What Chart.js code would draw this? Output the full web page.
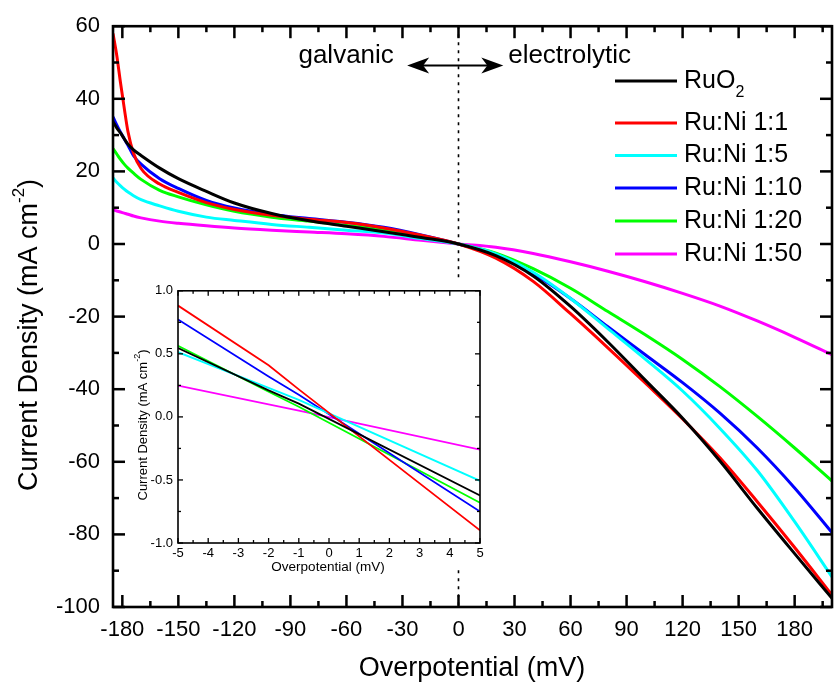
<!DOCTYPE html>
<html>
<head>
<meta charset="utf-8">
<script src="https://cdn.jsdelivr.net/npm/chart.js@4.4.1/dist/chart.umd.min.js"></script>
<style>
  body { margin: 0; background: #fff; }
  #wrap { position: relative; width: 835px; height: 688px; }
  #main { position: absolute; left: 0; top: 0; }
  #inset { position: absolute; left: 130px; top: 278px; }
</style>
</head>
<body>
<div id="wrap">
  <canvas id="main" width="835" height="688"></canvas>
  <canvas id="inset" width="360" height="300"></canvas>
</div>
<script>
// ---- data ----
const seriesNames = ['RuO2', 'Ru:Ni 1:1', 'Ru:Ni 1:5', 'Ru:Ni 1:10', 'Ru:Ni 1:20', 'Ru:Ni 1:50'];
const seriesColors = ['#000000', '#ff0000', '#00ffff', '#0000ff', '#00ff00', '#ff00ff'];

// main plot: overpotential (mV)
const mainX = [-185, -183, -181, -179, -177, -174, -170, -160, -150, -135, -120, -100, -80, -60, -40, -20,
               0, 20, 40, 60, 80, 100, 120, 140, 160, 180, 200];
const ruo2   = [33.7, 32.0, 30.6, 29.0, 27.5, 25.9, 24.4, 20.9, 18.0, 14.5, 11.3, 8.4, 6.4, 4.9, 3.4, 1.8,
                0, -3.2, -8.8, -17.2, -27.0, -37.5, -48, -59.8, -72.8, -85.3, -97.6];
const ruNi1  = [58, 52, 44.5, 37.5, 31, 25, 20.8, 16.5, 14.2, 11.4, 9.5, 7.9, 6.8, 5.9, 4.4, 2.4,
                0, -3.9, -10.3, -19.2, -28.6, -38.3, -48.2, -58.9, -71.0, -83.6, -96.7];
const ruNi5  = [18.2, 17.0, 16.0, 15.1, 14.3, 13.3, 12.2, 10.5, 9.0, 7.4, 6.5, 5.4, 4.6, 3.8, 3.0, 1.5,
                0, -2.7, -7.8, -15, -23.3, -31.7, -40.5, -50.8, -62.4, -76.5, -91.7];
const ruNi10 = [35, 32.8, 30.8, 29.0, 27.2, 24.3, 22, 18, 15.3, 12, 9.9, 8.1, 7.0, 6.0, 4.6, 2.5,
                0, -3, -8.2, -15, -22.8, -30.5, -38.2, -46.6, -56.2, -67.2, -79.5];
const ruNi20 = [26.3, 24.8, 23.3, 22.0, 20.9, 19.5, 17.8, 14.8, 13.0, 10.8, 9.0, 7.4, 6.3, 5.1, 3.9, 2.1,
                0, -2.5, -6.8, -12.2, -18.6, -25.0, -31.8, -39.3, -47.5, -56.2, -65.3];
const ruNi50 = [9.4, 9.1, 8.8, 8.5, 8.2, 7.7, 7.2, 6.3, 5.7, 5.0, 4.4, 3.8, 3.3, 2.8, 2.1, 1.0,
                0, -0.9, -2.6, -4.9, -7.5, -10.4, -13.6, -17.1, -21.2, -25.7, -30.5];
const mainSeries = [ruo2, ruNi1, ruNi5, ruNi10, ruNi20, ruNi50];

const mainXTicks = [-180, -150, -120, -90, -60, -30, 0, 30, 60, 90, 120, 150, 180];
const mainXMinor = [-165, -135, -105, -75, -45, -15, 15, 45, 75, 105, 135, 165, 195];
const mainYTicks = [-100, -80, -60, -40, -20, 0, 20, 40, 60];
const mainYMinor = [-90, -70, -50, -30, -10, 10, 30, 50];

// inset: overpotential (mV)
const insetX = [-5, -2, -1, 5];
const inRuo2   = [0.546, 0.21, 0.105, -0.623];
const inRuNi1  = [0.883, 0.41, 0.218, -0.90];
const inRuNi5  = [0.513, 0.23, 0.135, -0.507];
const inRuNi10 = [0.772, 0.32, 0.175, -0.751];
const inRuNi20 = [0.564, 0.20, 0.080, -0.681];
const inRuNi50 = [0.248, 0.10, 0.050, -0.26];
const insetSeries = [inRuo2, inRuNi1, inRuNi5, inRuNi10, inRuNi20, inRuNi50];

const insetXTicks = [-5, -4, -3, -2, -1, 0, 1, 2, 3, 4, 5];
const insetXMinor = [-4.5, -3.5, -2.5, -1.5, -0.5, 0.5, 1.5, 2.5, 3.5, 4.5];
const insetYTicks = [-1, -0.5, 0, 0.5, 1];
const insetYMinor = [-0.75, -0.25, 0.25, 0.75];

const FONT = '"Liberation Sans", Arial, Helvetica, sans-serif';

// frame around the plot area with inward ticks on all four sides
function drawFrame(chart, cfg) {
  const ctx = chart.ctx;
  const a = chart.chartArea;
  const sx = chart.scales.x, sy = chart.scales.y;
  ctx.save();
  ctx.setLineDash([]);
  ctx.fillStyle = '#000';
  const w = cfg.tickWidth;
  const xs = cfg.xMajor.map(v => [v, cfg.major]).concat(cfg.xMinor.map(v => [v, cfg.minor]));
  const ys = cfg.yMajor.map(v => [v, cfg.major]).concat(cfg.yMinor.map(v => [v, cfg.minor]));
  for (const [v, len] of xs) {
    const px = sx.getPixelForValue(v);
    ctx.fillRect(px - w / 2, a.bottom - len, w, len);
    ctx.fillRect(px - w / 2, a.top, w, len);
  }
  for (const [v, len] of ys) {
    const py = sy.getPixelForValue(v);
    ctx.fillRect(a.left, py - w / 2, len, w);
    ctx.fillRect(a.right - len, py - w / 2, len, w);
  }
  ctx.strokeStyle = '#000';
  ctx.lineWidth = cfg.borderWidth;
  ctx.strokeRect(a.left, a.top, a.right - a.left, a.bottom - a.top);
  ctx.restore();
}

// text with an optional raised or lowered small part, drawn left to right
function drawParts(ctx, parts, x, y) {
  let cx = x;
  parts.forEach(p => {
    ctx.font = p.size + 'px ' + FONT;
    ctx.fillText(p.t, cx, y + (p.dy || 0));
    cx += ctx.measureText(p.t).width;
  });
}
function partsWidth(ctx, parts) {
  let w = 0;
  parts.forEach(p => { ctx.font = p.size + 'px ' + FONT; w += ctx.measureText(p.t).width; });
  return w;
}

const mainFrame = { xMajor: mainXTicks, xMinor: mainXMinor, yMajor: mainYTicks, yMinor: mainYMinor,
                    major: 12, minor: 6, tickWidth: 2.5, borderWidth: 2.6 };
const insetFrame = { xMajor: insetXTicks, xMinor: insetXMinor, yMajor: insetYTicks, yMinor: insetYMinor,
                     major: 5, minor: 3, tickWidth: 1.3, borderWidth: 1.6 };

const mainDecor = {
  id: 'mainDecor',
  beforeDatasetsDraw(chart) {
    const { ctx, chartArea: a, scales: { x } } = chart;
    const px = Math.round(x.getPixelForValue(0)) + 0.5;
    ctx.save();
    ctx.strokeStyle = '#000';
    ctx.lineWidth = 1.6;
    ctx.setLineDash([3, 5]);
    ctx.beginPath();
    ctx.moveTo(px, a.top); ctx.lineTo(px, a.bottom);
    ctx.stroke();
    ctx.restore();
  },
  afterDraw(chart) {
    drawFrame(chart, mainFrame);
    const { ctx, scales: { x, y } } = chart;
    ctx.save();
    ctx.fillStyle = '#000';
    ctx.textBaseline = 'middle';
    ctx.textAlign = 'left';

    // galvanic / electrolytic labels and double arrow
    ctx.font = '26px ' + FONT;
    ctx.fillText('galvanic', x.getPixelForValue(-85.7), y.getPixelForValue(51.8));
    ctx.fillText('electrolytic', x.getPixelForValue(26.6), y.getPixelForValue(51.8));
    const ay = y.getPixelForValue(49.2);
    const l = x.getPixelForValue(-27.5), r = x.getPixelForValue(24);
    ctx.strokeStyle = '#000';
    ctx.lineWidth = 2;
    ctx.beginPath(); ctx.moveTo(l + 10, ay); ctx.lineTo(r - 10, ay); ctx.stroke();
    [[l, 1], [r, -1]].forEach(([tx, d]) => {
      ctx.beginPath();
      ctx.moveTo(tx, ay);
      ctx.lineTo(tx + d * 22, ay - 8);
      ctx.lineTo(tx + d * 16, ay);
      ctx.lineTo(tx + d * 22, ay + 8);
      ctx.closePath();
      ctx.fill();
    });

    // legend
    const rows = [81, 123, 155.5, 188, 221, 254];
    chart.data.datasets.forEach((ds, i) => {
      const ry = rows[i];
      ctx.strokeStyle = ds.borderColor;
      ctx.lineWidth = 3;
      ctx.beginPath(); ctx.moveTo(615, ry); ctx.lineTo(677, ry); ctx.stroke();
      ctx.fillStyle = '#000';
      if (ds.label === 'RuO2') {
        drawParts(ctx, [{ t: 'RuO', size: 25 }, { t: '2', size: 16, dy: 12 }], 684, ry);
      } else {
        drawParts(ctx, [{ t: ds.label, size: 25 }], 684, ry);
      }
    });

    // axis titles
    ctx.fillStyle = '#000';
    ctx.textAlign = 'center';
    ctx.font = '27px ' + FONT;
    ctx.fillText('Overpotential (mV)', 472, 669);
    ctx.textAlign = 'left';
    const yParts = [{ t: 'Current Density (mA cm', size: 27 }, { t: '-2', size: 17, dy: -11 }, { t: ')', size: 27 }];
    ctx.translate(30, 335);
    ctx.rotate(-Math.PI / 2);
    drawParts(ctx, yParts, -partsWidth(ctx, yParts) / 2, 0);
    ctx.restore();
  }
};

const insetDecor = {
  id: 'insetDecor',
  beforeDraw(chart) {
    const ctx = chart.ctx;
    ctx.save();
    ctx.fillStyle = '#fff';
    ctx.fillRect(0, 0, chart.width, 292);
    ctx.restore();
  },
  afterDraw(chart) {
    drawFrame(chart, insetFrame);
    const ctx = chart.ctx;
    ctx.save();
    ctx.fillStyle = '#000';
    ctx.textBaseline = 'middle';
    ctx.textAlign = 'center';
    ctx.font = '13.5px ' + FONT;
    ctx.fillText('Overpotential (mV)', 198, 289);
    ctx.textAlign = 'left';
    const parts = [{ t: 'Current Density (mA cm', size: 13 }, { t: '-2', size: 9, dy: -5 }, { t: ')', size: 13 }];
    ctx.translate(13, 147);
    ctx.rotate(-Math.PI / 2);
    drawParts(ctx, parts, -partsWidth(ctx, parts) / 2, 0);
    ctx.restore();
  }
};

function makeDatasets(xs, series, width) {
  return series.map((vals, i) => ({
    label: seriesNames[i],
    data: xs.map((v, k) => ({ x: v, y: vals[k] })),
    borderColor: seriesColors[i],
    backgroundColor: seriesColors[i],
    borderWidth: width,
    pointRadius: 0,
    fill: false
  }));
}

function axis(min, max, ticks, fontSize, pad, fmt, fit) {
  return {
    type: 'linear', min, max,
    afterBuildTicks: s => { s.ticks = ticks.map(v => ({ value: v })); },
    afterFit: fit,
    grid: { display: false, drawTicks: false },
    border: { display: false },
    ticks: { color: '#000', font: { family: FONT, size: fontSize }, padding: pad,
             autoSkip: false, maxRotation: 0, callback: fmt }
  };
}

Chart.defaults.animation = false;

new Chart(document.getElementById('main'), {
  type: 'line',
  data: { datasets: makeDatasets(mainX, mainSeries, 3) },
  options: {
    responsive: false,
    layout: { padding: { top: 22, right: 3, left: 0, bottom: 0 } },
    elements: { line: { cubicInterpolationMode: 'monotone' } },
    plugins: { legend: { display: false }, tooltip: { enabled: false } },
    scales: {
      x: axis(-185, 200, mainXTicks, 22, 10, v => String(v), s => { s.height = 81; }),
      y: axis(-100, 60, mainYTicks, 22, 13, v => String(v), s => { s.width = 113; })
    }
  },
  plugins: [mainDecor]
});

new Chart(document.getElementById('inset'), {
  type: 'line',
  data: { datasets: makeDatasets(insetX, insetSeries, 1.8) },
  options: {
    responsive: false,
    layout: { padding: { top: 8, right: 10, left: 0, bottom: 0 } },
    plugins: { legend: { display: false }, tooltip: { enabled: false } },
    scales: {
      x: axis(-5, 5, insetXTicks, 13, 3, v => String(v), s => { s.height = 35; }),
      y: axis(-1, 1, insetYTicks, 13, 5, v => v.toFixed(1), s => { s.width = 48; })
    }
  },
  plugins: [insetDecor]
});
</script>
</body>
</html>
